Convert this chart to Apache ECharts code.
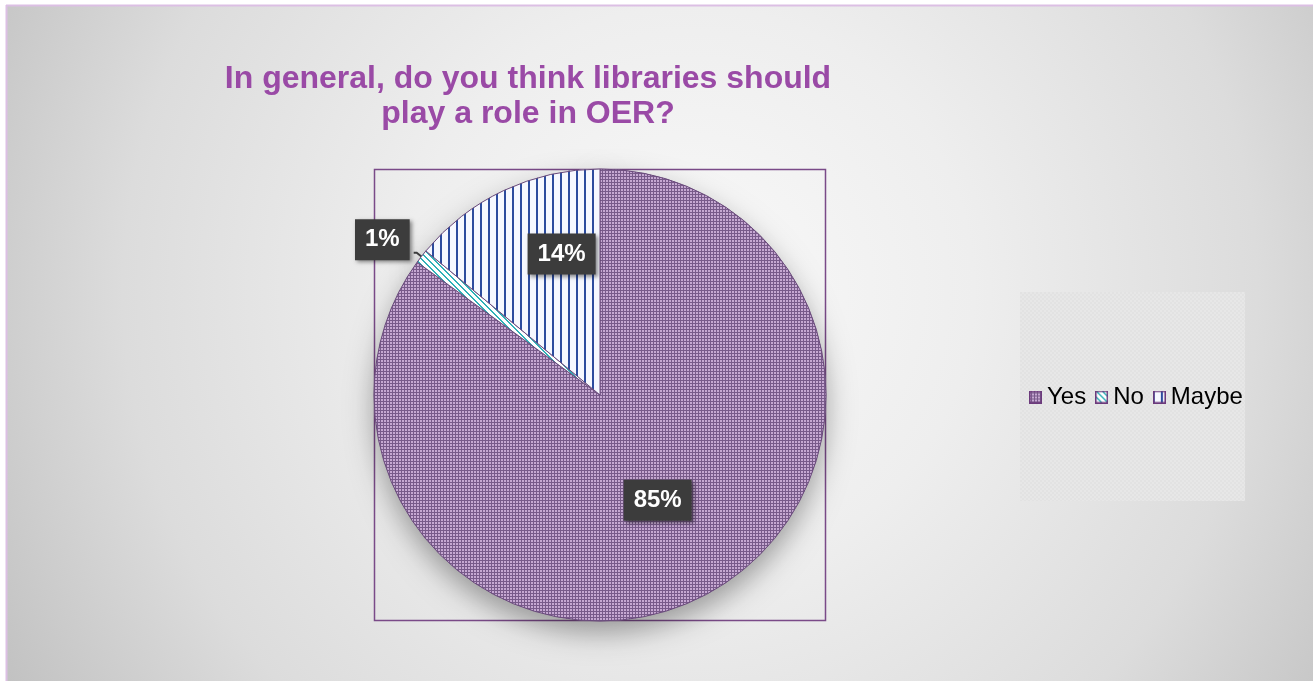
<!DOCTYPE html>
<html>
<head>
<meta charset="utf-8">
<title>Libraries and OER</title>
<script src="https://cdn.jsdelivr.net/npm/echarts@6/dist/echarts.min.js"></script>
<style>
  html, body { margin: 0; padding: 0; background: #ffffff; }
  #chart { width: 1313px; height: 681px; }
</style>
</head>
<body>
<div id="chart"></div>
<script>
// Survey answers and their shares (percent)
const categories = ['Yes', 'No', 'Maybe'];
const shares = [85, 1, 14];
const chartTitle = 'In general, do you think libraries should\nplay a role in OER?';

const FONT = "'Liberation Sans', Arial, sans-serif";

// Small repeating tiles used as fill patterns
function tile(w, h, draw) {
  const c = document.createElement('canvas');
  c.width = w; c.height = h;
  draw(c.getContext('2d'));
  return c;
}
const checkerTile = tile(3, 3, g => {
  g.fillStyle = '#785a8a'; g.fillRect(0, 0, 3, 3);
  g.fillStyle = '#c6a8d2'; g.fillRect(0, 0, 2, 2);
});
const diagonalTile = tile(6, 6, g => {
  g.fillStyle = '#ffffff'; g.fillRect(0, 0, 6, 6);
  g.fillStyle = '#2fb1b8';
  for (let i = 0; i < 6; i++) { g.fillRect(i, i, 2, 1); if (i === 5) g.fillRect(0, 5, 1, 1); }
});
const verticalTile = tile(8, 8, g => {
  g.fillStyle = '#f6f8ff'; g.fillRect(0, 0, 8, 8);
  g.fillStyle = '#2d4c9e'; g.fillRect(0, 0, 2, 8);
});
const legendBoxTile = tile(4, 4, g => {
  g.fillStyle = '#e7e7e7'; g.fillRect(0, 0, 4, 4);
  g.fillStyle = '#e2e2e2'; g.fillRect(0, 0, 2, 2); g.fillRect(2, 2, 2, 2);
});

const tiles = { Yes: checkerTile, No: diagonalTile, Maybe: verticalTile };
const fills = {};
categories.forEach(n => { fills[n] = { image: tiles[n], repeat: 'repeat' }; });

// Legend swatches: the pattern inside a thin purple frame
function swatch(name) {
  const c = tile(13, 13, g => {
    g.fillStyle = g.createPattern(tiles[name], 'repeat');
    g.fillRect(0, 0, 13, 13);
    g.strokeStyle = '#6c3a7c'; g.lineWidth = 1.5;
    g.strokeRect(0.75, 0.75, 11.5, 11.5);
  });
  return 'image://' + c.toDataURL();
}

// Label placement tweaks per answer
const labelShift = { Yes: [5, 2], No: [1, -13], Maybe: [11, -36] };

const labelBox = {
  color: '#ffffff',
  fontFamily: FONT,
  fontWeight: 'bold',
  fontSize: 24,
  backgroundColor: '#3c3c3c',
  padding: [9, 10, 8, 10],
  shadowColor: 'rgba(0,0,0,0.45)',
  shadowBlur: 4,
  shadowOffsetX: 2,
  shadowOffsetY: 2,
  formatter: p => p.value + '%'
};

const pieData = categories.map((name, i) => {
  const item = { name: name, value: shares[i], itemStyle: { color: fills[name] } };
  if (name === 'No') {
    item.label = { position: 'outside' };
    item.labelLine = { show: true, length: 6, length2: 3, lineStyle: { color: '#3c3c3c', width: 2 } };
  }
  return item;
});

const shadowData = categories.map((name, i) => ({ name: name, value: shares[i] }));

const chart = echarts.init(document.getElementById('chart'), null, { renderer: 'canvas' });

chart.setOption({
  animation: false,
  title: {
    text: chartTitle,
    left: 528,
    top: 62,
    padding: 0,
    textAlign: 'center',
    textStyle: {
      color: '#9a4aa6',
      fontFamily: FONT,
      fontWeight: 'bold',
      fontSize: 32,
      lineHeight: 35
    }
  },
  legend: {
    data: categories.map(n => ({ name: n, icon: swatch(n) })),
    orient: 'horizontal',
    left: 1029,
    top: 385,
    padding: 0,
    itemWidth: 13,
    itemHeight: 13,
    itemGap: 9,
    selectedMode: false,
    textStyle: { color: '#000000', fontFamily: FONT, fontSize: 24 }
  },
  graphic: [
    {
      type: 'rect', z: -100, silent: true,
      shape: { x: 6, y: 5, width: 1307, height: 676 },
      style: {
        fill: {
          type: 'radial', x: 690, y: 290, r: 810, global: true,
          colorStops: [
            { offset: 0, color: '#f9f9f9' },
            { offset: 0.35, color: '#eeeeee' },
            { offset: 0.7, color: '#dcdcdc' },
            { offset: 1, color: '#bfbfbf' }
          ]
        }
      }
    },
    { type: 'line', z: -90, silent: true, shape: { x1: 6, y1: 5.5, x2: 1313, y2: 5.5 }, style: { stroke: '#dcbfe4', lineWidth: 2 } },
    { type: 'line', z: -90, silent: true, shape: { x1: 6.5, y1: 5, x2: 6.5, y2: 681 }, style: { stroke: '#dcbfe4', lineWidth: 2 } },
    {
      type: 'rect', z: -80, silent: true,
      shape: { x: 1020, y: 292, width: 225, height: 209 },
      style: { fill: { image: legendBoxTile, repeat: 'repeat' } }
    },
    {
      type: 'rect', z: -80, silent: true,
      shape: { x: 374.5, y: 169.5, width: 451, height: 451 },
      style: { fill: null, stroke: '#7a4a88', lineWidth: 1.5 }
    }
  ],
  series: [
    {
      // soft drop shadow under the pie
      type: 'pie',
      silent: true,
      z: 1,
      center: [600, 395],
      radius: 226,
      startAngle: 90,
      data: shadowData,
      label: { show: false },
      labelLine: { show: false },
      itemStyle: {
        color: '#9a9a9a',
        shadowColor: 'rgba(0,0,0,0.35)',
        shadowBlur: 28,
        shadowOffsetY: 12
      }
    },
    {
      type: 'pie',
      z: 2,
      center: [600, 395],
      radius: 226,
      startAngle: 90,
      avoidLabelOverlap: false,
      data: pieData,
      itemStyle: { borderColor: '#6a4a7c', borderWidth: 1 },
      label: Object.assign({ show: true, position: 'inside' }, labelBox),
      labelLine: { show: false },
      labelLayout: function (params) {
        const s = labelShift[categories[params.dataIndex]] || [0, 0];
        return { dx: s[0], dy: s[1] };
      },
      emphasis: { disabled: true }
    }
  ]
});
</script>
</body>
</html>
